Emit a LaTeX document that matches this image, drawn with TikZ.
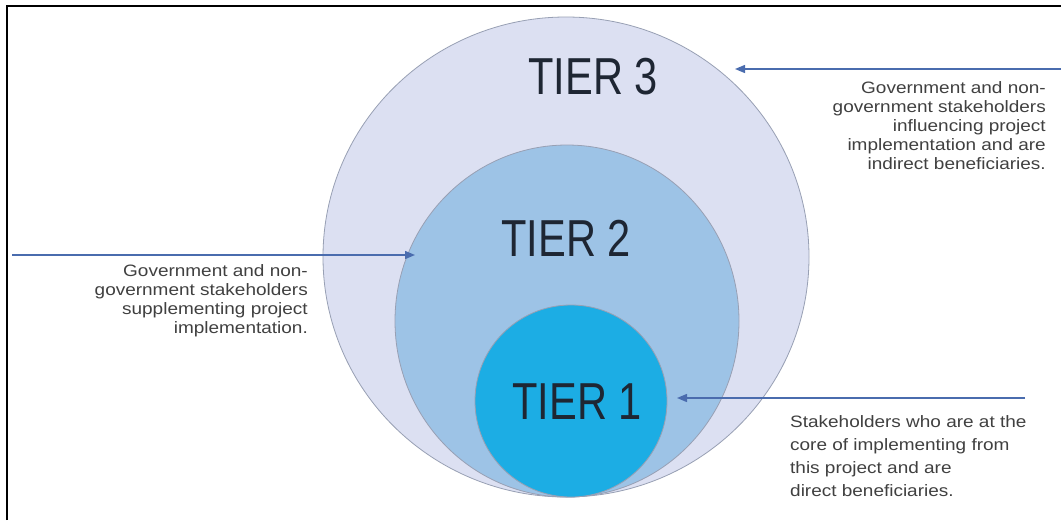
\documentclass[tikz,border=0pt]{standalone}
\usepackage{fontspec}
\usepackage{xcolor, tikz}
\setmainfont{Liberation Sans}
\newfontfamily\tierfont[FakeStretch=0.8]{Liberation Sans}
\newfontfamily\notefont[FakeStretch=1.15]{Liberation Sans}
\usetikzlibrary{shapes.geometric,arrows.meta}
\definecolor{tierthree}{HTML}{DCE0F2}
\definecolor{tiertwo}{HTML}{9DC3E6}
\definecolor{tierone}{HTML}{1CADE4}
\definecolor{rim}{HTML}{98A0B4}
\definecolor{notegray}{HTML}{404040}
\definecolor{labelink}{HTML}{1E2633}
\definecolor{arrowblue}{HTML}{4A6CAE}
\tikzstyle{tier} = [ellipse, draw=rim, line width=0.8pt, inner sep=0pt]
\tikzstyle{tierlabel} = [inner sep=0pt, text=labelink, font=\tierfont\fontsize{52}{52}\selectfont]
\tikzstyle{note} = [inner sep=0pt, text=notegray, font=\notefont\fontsize{16.5}{19}\selectfont]
\tikzstyle{arrow} = [line width=1.4pt, draw=arrowblue, ->, >={Triangle[length=10pt,width=8pt]}]

\begin{document}
\begin{tikzpicture}[x=1pt, y=-1pt]
\useasboundingbox (0,0) rectangle (1061,520);
\fill[white] (0,0) rectangle (1061,520);
\draw[line width=2pt] (7,520) -- (7,6) -- (1061,6);

\node (t3) [tier, fill=tierthree, minimum width=486pt, minimum height=480pt] at (566,257) {};
\node (t2) [tier, fill=tiertwo, minimum width=344pt, minimum height=352pt] at (567,321) {};
\node (t1) [tier, fill=tierone, minimum width=192pt, minimum height=192pt] at (571,401) {};

\node (l3) [tierlabel] at (593,77) {TIER 3};
\node (l2) [tierlabel] at (566,238) {TIER 2};
\node (l1) [tierlabel] at (577,402) {TIER 1};

\node (n3) [note, align=right, anchor=north east] at (1046,81)
  {Government and non-\\government stakeholders\\influencing project\\implementation and are\\indirect beneficiaries.};
\node (n2) [note, align=right, anchor=north east] at (308,264)
  {Government and non-\\government stakeholders\\supplementing project\\implementation.};
\node (n1) [note, align=left, anchor=north west, font=\notefont\fontsize{16.5}{23}\selectfont] at (790,415)
  {Stakeholders who are at the\\core of implementing from\\this project and are\\direct beneficiaries.};

\coordinate (a3s) at (1061,69);
\coordinate (a3e) at (735,69);
\coordinate (a2s) at (12,255);
\coordinate (a2e) at (415,255);
\coordinate (a1s) at (1025,398);
\coordinate (a1e) at (677,398);
\draw [arrow] (a3s) -- (a3e);
\draw [arrow] (a2s) -- (a2e);
\draw [arrow] (a1s) -- (a1e);

\end{tikzpicture}
\end{document}
